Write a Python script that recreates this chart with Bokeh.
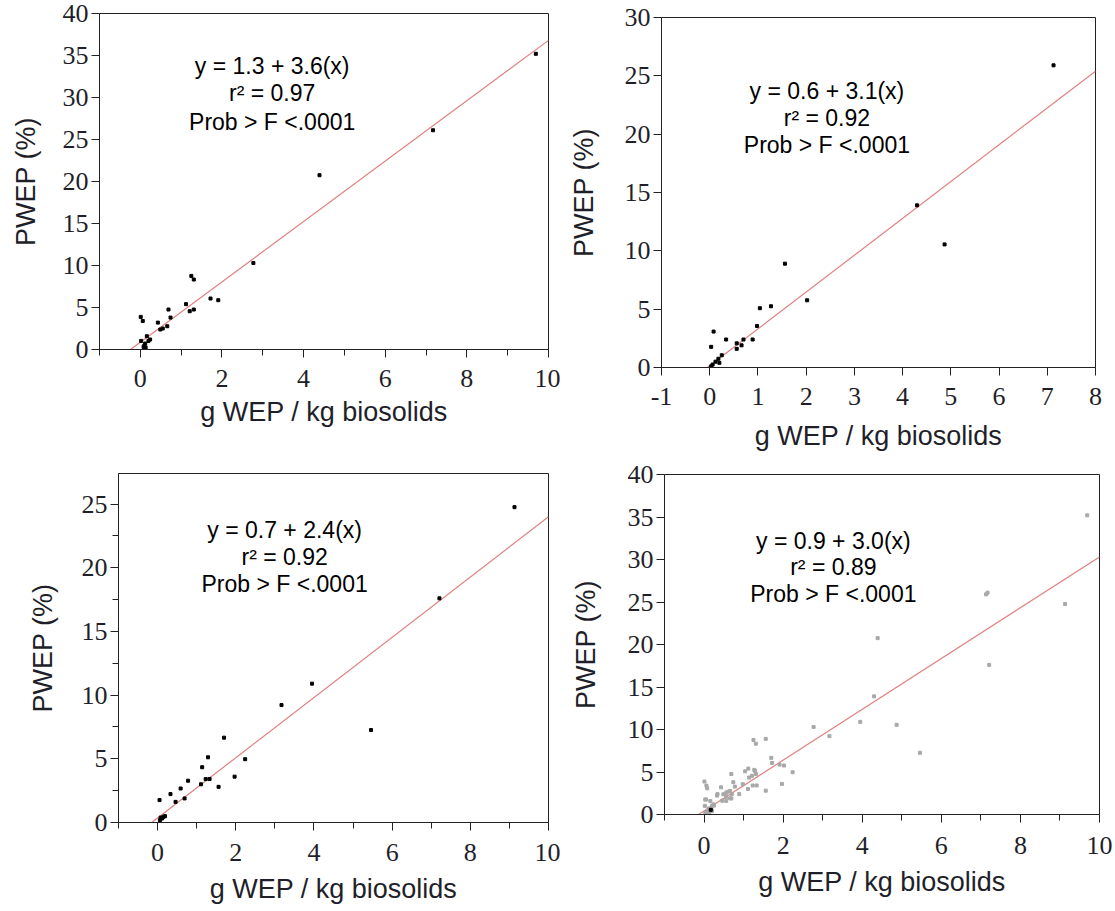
from bokeh.plotting import figure
from bokeh.layouts import column, row
from bokeh.models import Range1d, FixedTicker
from bokeh.core.properties import value
from bokeh.embed import file_html
from bokeh.resources import INLINE

# ---------------- data ----------------
# Panel 1
x1 = [9.69, 7.17, 4.39, 2.77, 1.25, 1.31, 1.72, 1.91, 1.12, 1.21, 1.31, 0.69, 0.74, 0.66,
      0.43, 0.49, 0.55, 0.01, 0.06, 0.16, 0.24, 0.20, 0.02, 0.12, 0.10, 0.08, 0.13]
y1 = [35.2, 26.1, 20.75, 10.3, 8.76, 8.33, 6.07, 5.87, 5.4, 4.56, 4.76, 4.76, 3.8, 2.77,
      3.2, 2.38, 2.5, 3.88, 3.4, 1.58, 1.19, 1.02, 1.02, 0.71, 0.48, 0.31, 0.24]
# Panel 2
x2 = [7.13, 4.30, 4.87, 1.56, 2.02, 1.04, 1.27, 0.98, 0.89, 0.70, 0.66, 0.56, 0.56, 0.34,
      0.08, 0.03, 0.25, 0.18, 0.12, 0.20, 0.06, 0.03]
y2 = [25.9, 13.9, 10.55, 8.9, 5.76, 5.08, 5.25, 3.56, 2.4, 2.4, 1.9, 1.6, 2.07, 2.4,
      3.08, 1.77, 1.05, 0.75, 0.5, 0.4, 0.25, 0.1]
# Panel 3
x3 = [9.13, 7.21, 3.95, 3.17, 5.46, 1.70, 2.24, 1.29, 1.14, 1.97, 1.56, 1.33, 1.23, 1.11,
      0.78, 0.59, 0.33, 0.69, 0.46, 0.05, 0.15, 0.11, 0.19, 0.06, 0.08]
y3 = [24.76, 17.6, 10.9, 9.22, 7.26, 6.66, 4.97, 5.12, 4.34, 3.6, 2.8, 3.42, 3.41, 3.0,
      3.28, 2.67, 2.23, 1.89, 1.62, 1.76, 0.44, 0.31, 0.5, 0.18, 0.39]
# Panel 4 (all points pooled) plus one dark point
x4_dark = [0.17]
y4_dark = [0.55]

# fitted lines (end points)
fit1_x = [-0.24, 10.0]
fit1_y = [0.0, 36.8]
fit2_x = [-0.05, 8.0]
fit2_y = [0.0, 25.4]
fit3_x = [-0.15, 10.0]
fit3_y = [0.0, 24.0]
fit4_x = [-0.14, 10.0]
fit4_y = [0.0, 30.3]

eq1 = ["y = 1.3 + 3.6(x)", "r\u00b2 = 0.97", "Prob > F <.0001"]
eq2 = ["y = 0.6 + 3.1(x)", "r\u00b2 = 0.92", "Prob > F <.0001"]
eq3 = ["y = 0.7 + 2.4(x)", "r\u00b2 = 0.92", "Prob > F <.0001"]
eq4 = ["y = 0.9 + 3.0(x)", "r\u00b2 = 0.89", "Prob > F <.0001"]
eq1_x = [3.23, 3.23, 3.23]
eq1_y = [33.7, 30.5, 27.1]
eq2_x = [2.43, 2.43, 2.43]
eq2_y = [23.7, 21.4, 19.1]
eq3_x = [3.25, 3.25, 3.25]
eq3_y = [22.98, 20.88, 18.74]
eq4_x = [3.27, 3.27, 3.27]
eq4_y = [32.2, 29.1, 25.9]

xticks_even = [0, 2, 4, 6, 8, 10]
xticks_odd = [-1, 1, 3, 5, 7, 9]
xticks_int = [-1, 0, 1, 2, 3, 4, 5, 6, 7, 8]
yticks_40 = [0, 5, 10, 15, 20, 25, 30, 35, 40]
yticks_30 = [0, 5, 10, 15, 20, 25, 30]
yticks_25 = [0, 5, 10, 15, 20, 25]
yticks_25_minor = [2.5, 7.5, 12.5, 17.5, 22.5]

x_label = "g WEP / kg biosolids"
y_label = "PWEP (%)"

TICK_FONT = "Liberation Sans Narrow"
LABEL_FONT = "Liberation Sans"
TXT = "#1f1f2a"


def make(width, height, bl, br, bt, bb, xr, yr, xt, xm, yt, ym, xts, xls, yls):
    p = figure(width=width, height=height, output_backend="svg", toolbar_location=None,
               x_range=Range1d(*xr), y_range=Range1d(*yr),
               min_border_left=bl, min_border_right=br, min_border_top=bt, min_border_bottom=bb)
    p.grid.visible = False
    p.outline_line_color = "#222222"
    p.outline_line_width = 1
    p.background_fill_color = "white"
    p.border_fill_color = "white"
    p.xaxis.ticker = FixedTicker(ticks=xt, minor_ticks=xm)
    p.yaxis.ticker = FixedTicker(ticks=yt, minor_ticks=ym)
    for ax in (p.xaxis[0], p.yaxis[0]):
        ax.axis_line_color = "#222222"
        ax.major_tick_line_color = "#222222"
        ax.minor_tick_line_color = "#222222"
        ax.major_tick_in = 0
        ax.major_tick_out = 8
        ax.minor_tick_in = 0
        ax.minor_tick_out = 6
        ax.major_label_text_font = TICK_FONT
        ax.major_label_text_font_size = "26px"
        ax.major_label_text_color = TXT
        ax.axis_label_text_font = LABEL_FONT
        ax.axis_label_text_font_size = "27px"
        ax.axis_label_text_font_style = "normal"
        ax.axis_label_text_color = TXT
    p.xaxis.axis_label = x_label
    p.yaxis.axis_label = y_label
    p.xaxis.major_label_overrides = {-1: "-1"}
    p.xaxis.major_label_standoff = xts
    p.yaxis.major_label_standoff = 3
    p.xaxis.axis_label_standoff = xls
    p.yaxis.axis_label_standoff = yls
    return p


def add_eq(p, xs, ys, texts):
    p.text(x=xs, y=ys, text=texts, text_align="center", text_baseline="middle",
           text_font=value(LABEL_FONT), text_font_size="23px", text_color="black")


p1 = make(560, 460, 99, 12, 13, 111, (-1, 10), (0, 40), xticks_even, xticks_odd, yticks_40, [], 12, 7, 19)
p1.line(fit1_x, fit1_y, line_color="#e08080", line_width=1.2)
p1.scatter(x1, y1, marker="square", size=3, color="black")
add_eq(p1, eq1_x, eq1_y, eq1)

p2 = make(555, 460, 101, 20, 17, 93, (-1, 8), (0, 30), xticks_int, [], yticks_30, [], 12, 13, 23)
p2.line(fit2_x, fit2_y, line_color="#e08080", line_width=1.2)
p2.scatter(x2, y2, marker="square", size=3, color="black")
add_eq(p2, eq2_x, eq2_y, eq2)

p3 = make(560, 451, 118, 12, 13, 89, (-1, 10), (0, 27.4), xticks_even, xticks_odd, yticks_25, yticks_25_minor, 13, 10, 21)
p3.line(fit3_x, fit3_y, line_color="#e08080", line_width=1.2)
p3.scatter(x3, y3, marker="square", size=3, color="black")
add_eq(p3, eq3_x, eq3_y, eq3)

p4 = make(555, 451, 104, 16, 14, 97, (-1, 10), (0, 40), xticks_even, xticks_odd, yticks_40, [], 14, 10, 24)
p4.line(fit4_x, fit4_y, line_color="#e08080", line_width=1.2)
p4.scatter(x1 + x2 + x3, y1 + y2 + y3, marker="square", size=3, color="#a8a8a8")
p4.scatter(x4_dark, y4_dark, marker="square", size=3, color="black")
add_eq(p4, eq4_x, eq4_y, eq4)

layout = column(row(column(p1), column(p2), spacing=0),
                row(column(p3), column(p4), spacing=0), spacing=0)
open("out.html", "w").write(file_html(layout, INLINE))
